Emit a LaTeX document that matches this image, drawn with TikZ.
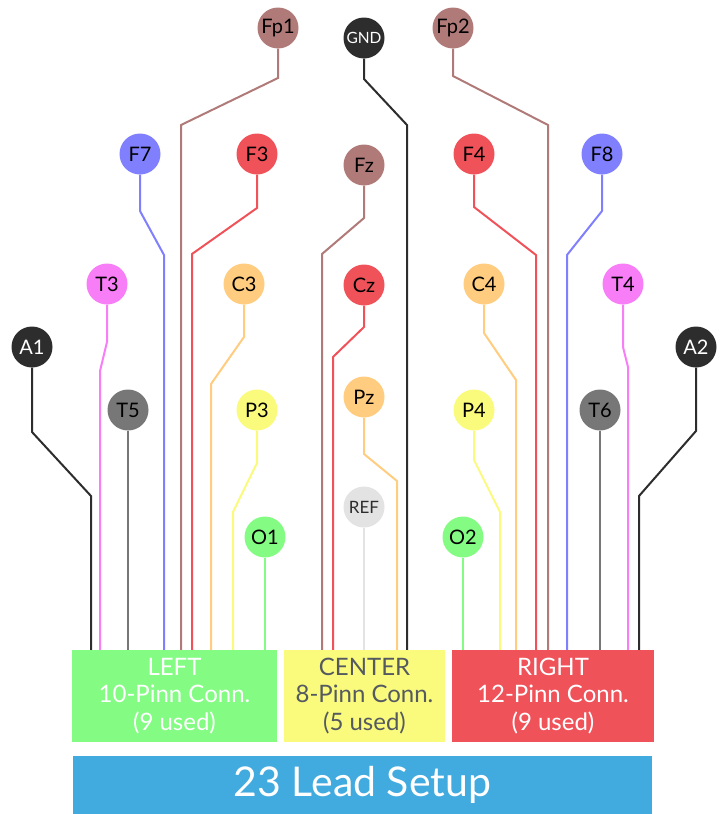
\documentclass[tikz,border=0pt]{standalone}
\usepackage{fontspec}
\setmainfont{Lato}
\usetikzlibrary{positioning}

\definecolor{cbrown}{HTML}{B07A78}
\definecolor{cdark}{HTML}{2D2D2D}
\definecolor{cblue}{HTML}{8080FF}
\definecolor{cred}{HTML}{F0525A}
\definecolor{cpink}{HTML}{F77EF7}
\definecolor{corange}{HTML}{FFCC80}
\definecolor{cgray}{HTML}{777777}
\definecolor{cyellow}{HTML}{FAFA7D}
\definecolor{cgreen}{HTML}{84FC84}
\definecolor{clight}{HTML}{E3E3E3}
\definecolor{cbar}{HTML}{41AADF}
\definecolor{ctext}{HTML}{555A60}

\tikzset{
  elec/.style={circle, minimum size=41pt, inner sep=0pt, text=black,
    font=\fontsize{20}{22}\selectfont},
  wire/.style={line width=2pt},
  conn/.style={minimum height=92pt, inner sep=0pt, align=center,
    font=\fontsize{24}{27.5}\selectfont}
}

\begin{document}
\begin{tikzpicture}[x=1pt, y=-1pt]
    \useasboundingbox (0,0) rectangle (725,814);

    % connectors
    \node[conn, fill=cgreen, text=white, minimum width=205pt] (left) at (174.5,696) {LEFT\\10-Pinn Conn.\\(9 used)};
    \node[conn, fill=cyellow, text=ctext, minimum width=161pt] (center) at (364.5,696) {CENTER\\8-Pinn Conn.\\(5 used)};
    \node[conn, fill=cred, text=white, minimum width=202pt] (right) at (553,696) {RIGHT\\12-Pinn Conn.\\(9 used)};
    \node[fill=cbar, text=white, minimum width=579pt, minimum height=58pt, inner sep=0pt,
      font=\fontsize{41}{44}\selectfont] (setup) at (362.5,785) {23 Lead Setup};

    % electrodes
    \node[elec, fill=cbrown] (fp1) at (278,28) {Fp1};
    \node[elec, fill=cdark, text=white, font=\fontsize{15.5}{17}\selectfont] (gnd) at (364,38) {GND};
    \node[elec, fill=cbrown] (fp2) at (453,28) {Fp2};
    \node[elec, fill=cblue] (f7) at (140,154) {F7};
    \node[elec, fill=cred] (f3) at (257,154) {F3};
    \node[elec, fill=cbrown] (fz) at (364,165) {Fz};
    \node[elec, fill=cred] (f4) at (474,154) {F4};
    \node[elec, fill=cblue] (f8) at (602,154) {F8};
    \node[elec, fill=cpink] (t3) at (107,284) {T3};
    \node[elec, fill=corange] (c3) at (244,284) {C3};
    \node[elec, fill=cred] (cz) at (364,285) {Cz};
    \node[elec, fill=corange] (c4) at (484,284) {C4};
    \node[elec, fill=cpink] (t4) at (623,284) {T4};
    \node[elec, fill=cdark, text=white] (a1) at (32,347) {A1};
    \node[elec, fill=cdark, text=white] (a2) at (696,347) {A2};
    \node[elec, fill=cgray] (t5) at (128,410) {T5};
    \node[elec, fill=cyellow] (p3) at (257,410) {P3};
    \node[elec, fill=corange] (pz) at (364,397) {Pz};
    \node[elec, fill=cyellow] (p4) at (474,410) {P4};
    \node[elec, fill=cgray] (t6) at (600,410) {T6};
    \node[elec, fill=clight, text=cdark, font=\fontsize{17}{19}\selectfont] (ref) at (364,507) {REF};
    \node[elec, fill=cgreen] (o1) at (265,537) {O1};
    \node[elec, fill=cgreen] (o2) at (463,537) {O2};

    % left wires
    \draw[wire, cbrown] (fp1.south) -- (278,78) -- (181,125) -- (181,0 |- left.north);
    \draw[wire, cblue] (f7.south) -- (140,211) -- (164,255) -- (164,0 |- left.north);
    \draw[wire, cred] (f3.south) -- (257,208) -- (192,254) -- (192,0 |- left.north);
    \draw[wire, cpink] (t3.south) -- (107,342) -- (100,371) -- (100,0 |- left.north);
    \draw[wire, corange] (c3.south) -- (244,337) -- (211,384) -- (211,0 |- left.north);
    \draw[wire, cdark] (a1.south) -- (32,432) -- (91,496) -- (91,0 |- left.north);
    \draw[wire, cgray] (t5.south) -- (t5.south |- left.north);
    \draw[wire, cyellow] (p3.south) -- (257,463) -- (233,512) -- (233,0 |- left.north);
    \draw[wire, cgreen] (o1.south) -- (o1.south |- left.north);

    % center wires
    \draw[wire, cdark] (gnd.south) -- (364,79) -- (407,125) -- (407,0 |- center.north);
    \draw[wire, cbrown] (fz.south) -- (364,218) -- (322,254) -- (322,0 |- center.north);
    \draw[wire, cred] (cz.south) -- (364,327) -- (333,357) -- (333,0 |- center.north);
    \draw[wire, corange] (pz.south) -- (364,454) -- (397,481) -- (397,0 |- center.north);
    \draw[wire, clight] (ref.south) -- (ref.south |- center.north);

    % right wires
    \draw[wire, cbrown] (fp2.south) -- (453,76) -- (548,125) -- (548,0 |- right.north);
    \draw[wire, cred] (f4.south) -- (474,207) -- (536,255) -- (536,0 |- right.north);
    \draw[wire, cblue] (f8.south) -- (602,211) -- (567,255) -- (567,0 |- right.north);
    \draw[wire, corange] (c4.south) -- (484,333) -- (516,380) -- (516,0 |- right.north);
    \draw[wire, cpink] (t4.south) -- (623,347) -- (628,367) -- (628,0 |- right.north);
    \draw[wire, cdark] (a2.south) -- (696,431) -- (639,496) -- (639,0 |- right.north);
    \draw[wire, cyellow] (p4.south) -- (474,460) -- (500,512) -- (500,0 |- right.north);
    \draw[wire, cgray] (t6.south) -- (t6.south |- right.north);
    \draw[wire, cgreen] (o2.south) -- (o2.south |- right.north);
\end{tikzpicture}
\end{document}
